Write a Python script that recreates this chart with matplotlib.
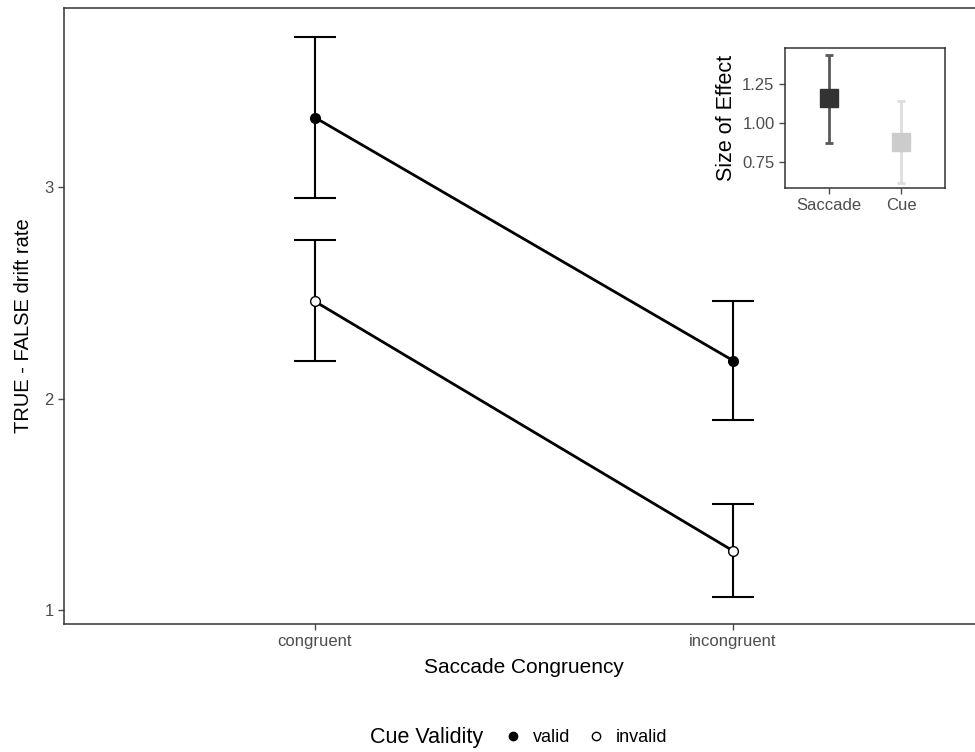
import numpy as np
import matplotlib
matplotlib.use("Agg")
from matplotlib import pyplot as plt
from matplotlib.lines import Line2D

plt.rcParams['font.family'] = ['Liberation Sans', 'DejaVu Sans']

# main panel data
congruency = ["congruent", "incongruent"]
valid_mean = [3.33, 2.18]
valid_lo = [2.95, 1.90]
valid_hi = [3.71, 2.46]
invalid_mean = [2.46, 1.28]
invalid_lo = [2.18, 1.06]
invalid_hi = [2.75, 1.50]

# inset data
effects = ["Saccade", "Cue"]
effect_size = [1.16, 0.88]
effect_lo = [0.875, 0.62]
effect_hi = [1.44, 1.14]
effect_fill = ["#333333", "#cccccc"]
effect_bar = ["#595959", "#dddddd"]

W, H = 975, 752
fig = plt.figure(figsize=(W / 100, H / 100), dpi=100)

ax = fig.add_axes([64 / W, (H - 624) / H, (984 - 64) / W, (624 - 8) / H])
x = np.arange(1, len(congruency) + 1)

for mean, lo, hi, face in [(valid_mean, valid_lo, valid_hi, "black"),
                           (invalid_mean, invalid_lo, invalid_hi, "white")]:
    mean = np.array(mean)
    yerr = [mean - np.array(lo), np.array(hi) - mean]
    ax.errorbar(x, mean, yerr=yerr, fmt="none", ecolor="black", elinewidth=1.5,
                capsize=15, capthick=1.5, zorder=2)
    ax.plot(x, mean, color="black", lw=2, zorder=3)
    ax.plot(x, mean, "o", ms=7, mfc=face, mec="black", mew=1, zorder=4)

ax.set_xlim(0.4, 2.6)
ax.set_ylim(0.934, 3.848)
ax.set_xticks(x)
ax.set_xticklabels(congruency)
ax.set_yticks([1, 2, 3])
ax.tick_params(colors="#4d4d4d", labelsize=12, length=4, width=1)
for s in ax.spines.values():
    s.set_color("#333333")
    s.set_linewidth(1.1)
ax.set_xlabel("Saccade Congruency", fontsize=15, labelpad=6)
ax.set_ylabel("TRUE - FALSE drift rate", fontsize=14.5)
ax.yaxis.set_label_coords(-0.034, 0.484)

# legend
fig.text(370 / W, 1 - 738 / H, "Cue Validity", fontsize=15.5, va="center", ha="left")
handles = [Line2D([], [], ls="none", marker="o", ms=6, mfc="black", mec="black"),
           Line2D([], [], ls="none", marker="o", ms=6, mfc="white", mec="black")]
fig.legend(handles, ["valid", "invalid"], loc="center left", ncol=2, frameon=False,
           bbox_to_anchor=(488 / W, 1 - 738 / H), fontsize=13,
           handlelength=1.0, handletextpad=0.6, columnspacing=0.9)

# inset
ins = fig.add_axes([785 / W, (H - 188) / H, 160 / W, 140 / H])
xi = np.arange(1, len(effects) + 1)
for i in range(len(effects)):
    ins.errorbar(xi[i], effect_size[i],
                 yerr=[[effect_size[i] - effect_lo[i]], [effect_hi[i] - effect_size[i]]],
                 fmt="none", ecolor=effect_bar[i], elinewidth=2, capsize=3, capthick=2)
    ins.plot(xi[i], effect_size[i], "s", ms=13, color=effect_fill[i], zorder=3)
ins.set_xlim(0.4, 2.6)
ins.set_ylim(0.585, 1.483)
ins.set_xticks(xi)
ins.set_xticklabels(effects)
ins.set_yticks([0.75, 1.00, 1.25])
ins.set_yticklabels(["0.75", "1.00", "1.25"])
ins.tick_params(colors="#4d4d4d", labelsize=12, length=4, width=1)
for s in ins.spines.values():
    s.set_color("#333333")
    s.set_linewidth(1.1)
ins.set_ylabel("Size of Effect", fontsize=15.5, labelpad=4)

fig.savefig("out.png", dpi=100)
